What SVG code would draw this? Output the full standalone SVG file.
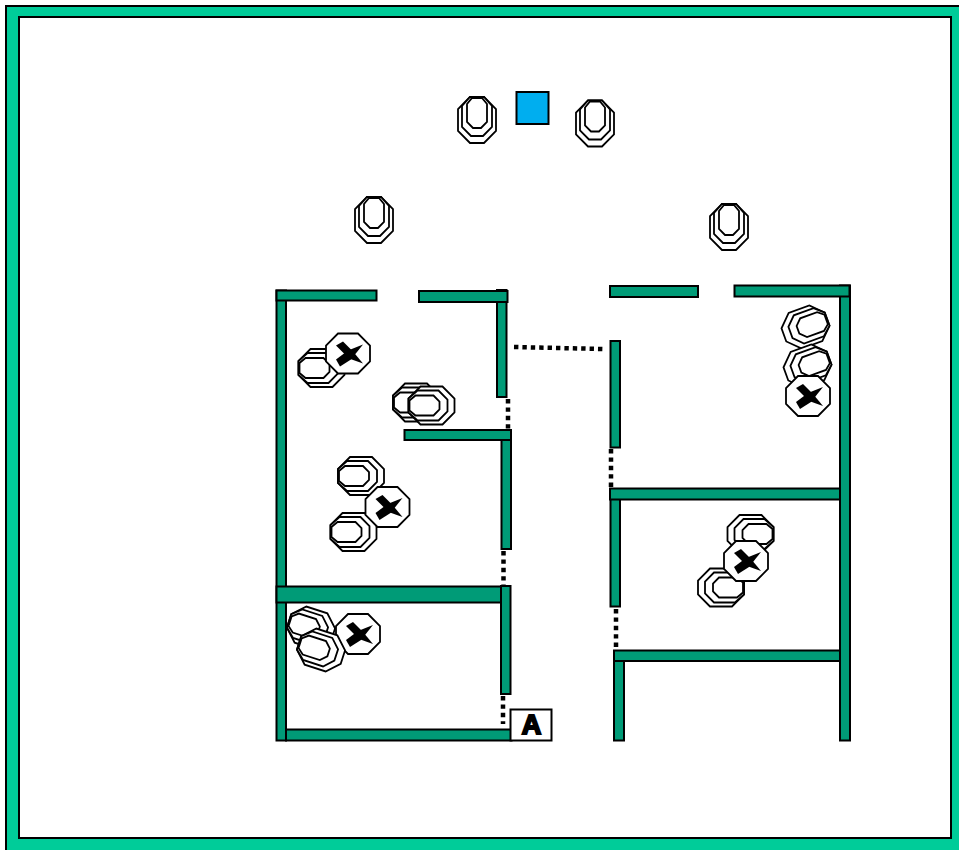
<svg xmlns="http://www.w3.org/2000/svg" width="959" height="850" viewBox="0 0 959 850">
<style>
.w{fill:#009b77;stroke:#000;stroke-width:2}
.s{fill:#fff;stroke:#000;stroke-width:1.800}
.x{fill:#000}
.d{fill:none;stroke:#000;stroke-width:4.500;stroke-dasharray:4.400 4}
</style>
<defs>
<g id="seat">
<polygon class="s" points="-7,-23 7,-23 19,-11 19,11 7,23 -7,23 -19,11 -19,-11"/>
<polygon class="s" points="-7,-23 7,-23 15,-14 15,7 6,16 -6,16 -15,7 -15,-14"/>
<polygon class="s" points="-5,-22 5,-22 10,-16 10,2 4,8 -4,8 -10,2 -10,-16"/>
</g>
<g id="xseat">
<polygon class="s" points="-10,-20 10,-20 22,-8 22,8 10,20 -10,20 -22,8 -22,-8"/>
<polygon class="x" points="-12,-8 -5,-12 5,-2 15,10 1,5"/>
<polygon class="x" points="-12,6 -8,13 3,6 15,-9 0,-3"/>
</g>
</defs>
<rect id="frame-outer" x="6" y="6" width="960" height="850" fill="#00cc99" stroke="#000" stroke-width="2"/>
<rect id="frame-inner" x="19" y="17" width="932" height="821" fill="#fff" stroke="#000" stroke-width="2"/>
<g id="connectors">
<line class="d" x1="514" y1="347" x2="603" y2="349"/>
<line class="d" x1="508" y1="399" x2="508" y2="430"/>
<line class="d" x1="503.5" y1="551" x2="503.5" y2="586"/>
<line class="d" x1="503" y1="696" x2="503" y2="724"/>
<line class="d" x1="611" y1="449" x2="611" y2="488"/>
<line class="d" x1="616" y1="609" x2="616" y2="650"/>
</g>
<g id="walls-left">
<rect class="w" x="276.500" y="290.500" width="9.500" height="450"/>
<rect class="w" x="276.500" y="290.500" width="100" height="10"/>
<rect class="w" x="497" y="290" width="9.500" height="107"/>
<rect class="w" x="419" y="291" width="88.500" height="11"/>
<rect class="w" x="501.500" y="440" width="9.500" height="109"/>
<rect class="w" x="404.500" y="430" width="106.500" height="10"/>
<rect class="w" x="276.500" y="586.500" width="225" height="16"/>
<rect class="w" x="501" y="586" width="9.500" height="108"/>
<rect class="w" x="286" y="729.500" width="225.500" height="11"/>
</g>
<g id="walls-right">
<rect class="w" x="610" y="286" width="88" height="11"/>
<rect class="w" x="610.500" y="341" width="9.500" height="106.500"/>
<rect class="w" x="610.500" y="499" width="9.500" height="107.500"/>
<rect class="w" x="610" y="488.500" width="230" height="11"/>
<rect class="w" x="614" y="661" width="10" height="79.500"/>
<rect class="w" x="614" y="650.500" width="226" height="10.500"/>
<rect class="w" x="840" y="285.500" width="10" height="455"/>
<rect class="w" x="734.500" y="285.500" width="115" height="11"/>
</g>
<rect id="blue-square" x="516.500" y="92" width="32" height="32" fill="#00aeef" stroke="#000" stroke-width="2"/>
<g id="seat-1"><use href="#seat" transform="translate(477,120)"/></g>
<g id="seat-2"><use href="#seat" transform="translate(595,123.500)"/></g>
<g id="seat-3"><use href="#seat" transform="translate(374,220)"/></g>
<g id="seat-4"><use href="#seat" transform="translate(729,227)"/></g>
<g id="group-a"><use href="#seat" transform="translate(321.500,368) rotate(-90)"/><use href="#xseat" transform="translate(348,353.500)"/></g>
<g id="group-b"><use href="#seat" transform="translate(416,402.500) rotate(-90)"/><use href="#seat" transform="translate(431.500,405.500) rotate(-90)"/></g>
<g id="group-c"><use href="#seat" transform="translate(361,476) rotate(-90)"/><use href="#seat" transform="translate(353.500,532) rotate(-90)"/><use href="#xseat" transform="translate(387.500,507)"/></g>
<g id="group-d"><use href="#xseat" transform="translate(358,634)"/><use href="#seat" transform="translate(311,628) rotate(-72)"/><use href="#seat" transform="translate(321,650) rotate(-72)"/></g>
<g id="group-e"><use href="#seat" transform="translate(805.500,327) rotate(70)"/><use href="#seat" transform="translate(807.500,366) rotate(70)"/><use href="#xseat" transform="translate(808,396)"/></g>
<g id="group-f"><use href="#seat" transform="translate(750.500,534) rotate(90)"/><use href="#seat" transform="translate(721,587.500) rotate(90)"/><use href="#xseat" transform="translate(746,561)"/></g>
<g id="node-a">
<rect x="510.500" y="709.500" width="41" height="31" fill="#fff" stroke="#000" stroke-width="2"/>
<text x="531.500" y="734" text-anchor="middle" font-family="'Liberation Sans',Arial,sans-serif" font-size="27" font-weight="700" stroke="#000" stroke-width="2">A</text>
</g>
</svg>
